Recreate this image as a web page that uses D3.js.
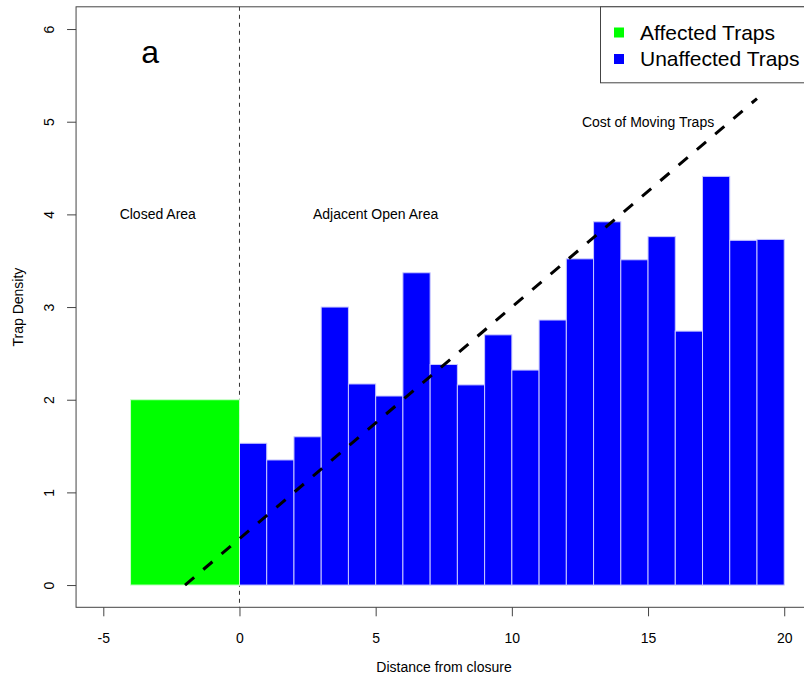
<!DOCTYPE html>
<html>
<head>
<meta charset="utf-8">
<script src="https://cdn.jsdelivr.net/npm/d3@7"></script>
<style>
  html, body { margin: 0; padding: 0; background: #fff; }
  svg { display: block; font-family: "Liberation Sans", Arial, Helvetica, sans-serif; }
</style>
</head>
<body>
<svg id="chart" width="804" height="679"></svg>
<script>
// Closed area (affected traps): one block from -4 to 0
const affectedBins = [{ x0: -4, x1: 0, density: 2.0 }];

// Adjacent open area (unaffected traps): unit-width bins from 0 to 20
const unaffectedStarts = [0, 1, 2, 3, 4, 5, 6, 7, 8, 9, 10, 11, 12, 13, 14, 15, 16, 17, 18, 19];
const unaffectedDensity = [1.53, 1.35, 1.60, 3.00, 2.17, 2.04, 3.37, 2.38, 2.16, 2.70,
                           2.32, 2.86, 3.52, 3.92, 3.51, 3.76, 2.74, 4.41, 3.72, 3.73];

// Cost of moving traps: straight line y = 0.25 x + 0.5, drawn from x = -2 to x = 19
const costX = [-2, 19];
const costSlope = 0.25;
const costIntercept = 0.5;

const xTicks = [-5, 0, 5, 10, 15, 20];
const yTicks = [0, 1, 2, 3, 4, 5, 6];

const legendLabels = ["Affected Traps", "Unaffected Traps"];
const legendColors = ["#00ff00", "#0000ff"];

const areaLabels = [
  { text: "Closed Area", x: -3, y: 4 },
  { text: "Adjacent Open Area", x: 5, y: 4 },
  { text: "Cost of Moving Traps", x: 15, y: 5 }
];

const svg = d3.select("#chart");

// Plot region (extends past the right edge of the page)
const x = d3.scaleLinear().domain([-6, 22]).range([76.06, 838.7]);
const y = d3.scaleLinear().domain([-0.24, 6.24]).range([607.3, 6.8]);

const axisColor = "#444";

// Boundary of the closure at x = 0 (behind the bars)
svg.append("line")
  .attr("x1", x(0)).attr("x2", x(0))
  .attr("y1", y(6.24)).attr("y2", y(-0.24))
  .attr("stroke", "#333")
  .attr("stroke-width", 1)
  .attr("stroke-dasharray", "4,4");

// Bars: unaffected
const bars = svg.append("g");
bars.selectAll("rect.unaff")
  .data(unaffectedStarts.map((s, i) => ({ x0: s, x1: s + 1, density: unaffectedDensity[i] })))
  .join("rect")
  .attr("class", "unaff")
  .attr("x", d => x(d.x0))
  .attr("width", d => x(d.x1) - x(d.x0))
  .attr("y", d => y(d.density))
  .attr("height", d => y(0) - y(d.density))
  .attr("fill", "#0000ff")
  .attr("stroke", "#c8c8ff")
  .attr("stroke-width", 1);

// Bars: affected
bars.selectAll("rect.aff")
  .data(affectedBins)
  .join("rect")
  .attr("class", "aff")
  .attr("x", d => x(d.x0))
  .attr("width", d => x(d.x1) - x(d.x0))
  .attr("y", d => y(d.density))
  .attr("height", d => y(0) - y(d.density))
  .attr("fill", "#00ff00")
  .attr("stroke", "#ccffcc")
  .attr("stroke-width", 1);

// Cost line
const costLine = d3.line()
  .x(d => x(d))
  .y(d => y(costSlope * d + costIntercept));
svg.append("path")
  .datum(costX)
  .attr("d", costLine)
  .attr("fill", "none")
  .attr("stroke", "#000")
  .attr("stroke-width", 3)
  .attr("stroke-dasharray", "12,12");

// Plot box
svg.append("rect")
  .attr("x", x(-6)).attr("y", y(6.24))
  .attr("width", x(22) - x(-6))
  .attr("height", y(-0.24) - y(6.24))
  .attr("fill", "none")
  .attr("stroke", axisColor)
  .attr("stroke-width", 1);

// X axis
const xAxis = svg.append("g")
  .attr("transform", `translate(0,${y(-0.24)})`)
  .call(d3.axisBottom(x).tickValues(xTicks).tickSize(9).tickPadding(17)
        .tickFormat(d => d < 0 ? "-" + Math.abs(d) : d));
xAxis.select(".domain").remove();
xAxis.selectAll(".tick line").attr("stroke", axisColor);
xAxis.selectAll(".tick text")
  .attr("font-size", 14)
  .attr("font-family", "Liberation Sans, Arial, sans-serif")
  .attr("fill", "#000");

// Y axis with rotated labels
const yAxis = svg.append("g")
  .attr("transform", `translate(${x(-6)},0)`)
  .call(d3.axisLeft(y).tickValues(yTicks).tickSize(9).tickFormat(d3.format("d")));
yAxis.select(".domain").remove();
yAxis.selectAll(".tick line").attr("stroke", axisColor);
yAxis.selectAll(".tick text")
  .attr("x", null).attr("dy", null)
  .attr("font-size", 14)
  .attr("font-family", "Liberation Sans, Arial, sans-serif")
  .attr("fill", "#000")
  .attr("text-anchor", "middle")
  .attr("transform", "translate(-21,0) rotate(-90)")
  .attr("dy", "-0.1em");

// Axis titles
svg.append("text")
  .attr("x", 444).attr("y", 672)
  .attr("text-anchor", "middle")
  .attr("font-size", 14)
  .text("Distance from closure");

svg.append("text")
  .attr("transform", `translate(23,${(y(6.24) + y(-0.24)) / 2}) rotate(-90)`)
  .attr("text-anchor", "middle")
  .attr("font-size", 14)
  .text("Trap Density");

// Region annotations
svg.selectAll("text.area")
  .data(areaLabels)
  .join("text")
  .attr("class", "area")
  .attr("x", d => x(d.x))
  .attr("y", d => y(d.y))
  .attr("dy", "0.35em")
  .attr("text-anchor", "middle")
  .attr("font-size", 14)
  .text(d => d.text);

// Panel letter
svg.append("text")
  .attr("x", x(-3.28)).attr("y", y(5.75))
  .attr("dy", "0.35em")
  .attr("text-anchor", "middle")
  .attr("font-size", 32)
  .text("a");

// Legend
const legend = svg.append("g");
legend.append("rect")
  .attr("x", 600.5).attr("y", 6.8)
  .attr("width", 260).attr("height", 76)
  .attr("fill", "#fff")
  .attr("stroke", axisColor)
  .attr("stroke-width", 1);
const items = legend.selectAll("g.item")
  .data(legendLabels)
  .join("g")
  .attr("class", "item")
  .attr("transform", (d, i) => `translate(0,${32.5 + i * 26.5})`);
items.append("rect")
  .attr("x", 614).attr("y", -5)
  .attr("width", 10).attr("height", 10)
  .attr("fill", (d, i) => legendColors[i]);
items.append("text")
  .attr("x", 640).attr("dy", "0.35em")
  .attr("font-size", 21)
  .text(d => d);
</script>
</body>
</html>
